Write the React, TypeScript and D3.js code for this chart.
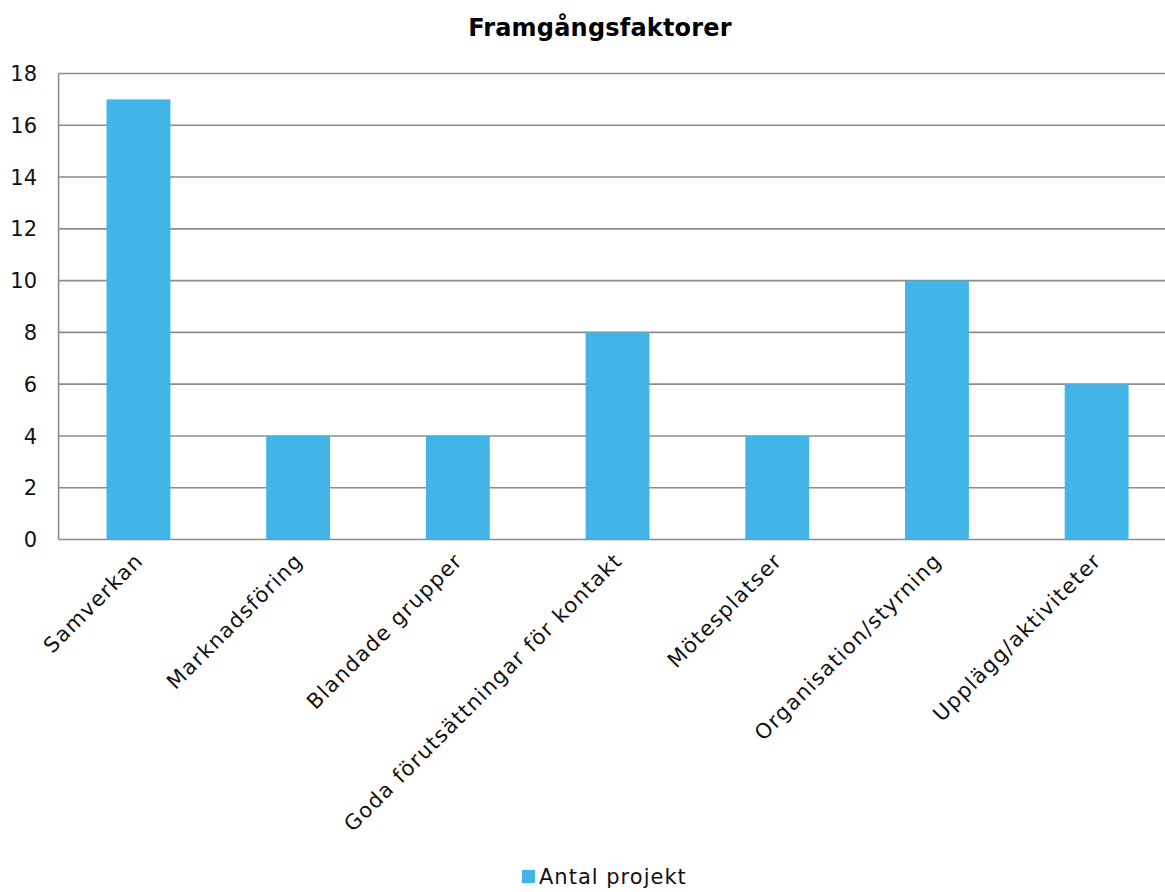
import React from "react";
import * as d3 from "d3";

const categories = [
  "Samverkan",
  "Marknadsföring",
  "Blandade grupper",
  "Goda förutsättningar för kontakt",
  "Mötesplatser",
  "Organisation/styrning",
  "Upplägg/aktiviteter",
];
const values = [17, 4, 4, 8, 4, 10, 6];
const yTicks = [0, 2, 4, 6, 8, 10, 12, 14, 16, 18];
const title = "Framgångsfaktorer";
const seriesName = "Antal projekt";

const W = 1165;
const H = 892;
const FONT = "'DejaVu Sans', sans-serif";
const BAR = "#41b6e6";
const GRID = "#8c8c8c";

export default function App() {
  const left = 58.6;
  const band = 159.7;
  const x = d3
    .scaleBand<string>()
    .domain(categories)
    .range([left, left + band * categories.length])
    .paddingInner(0.6)
    .paddingOuter(0.3);
  const y = d3.scaleLinear().domain([0, 18]).range([539.5, 73.5]);

  return (
    <svg
      width={W}
      height={H}
      style={{ position: "absolute", left: 0, top: 0, background: "#fff" }}
      fontFamily={FONT}
    >
      <text x={600} y={36} textAnchor="middle" fontWeight="bold" fontSize={24} letterSpacing={0.2} fill="#000">
        {title}
      </text>
      {yTicks.map((t) => (
        <g key={t}>
          <line x1={left} x2={W + 20} y1={y(t)} y2={y(t)} stroke={GRID} strokeWidth={1.6} />
          <text x={37} y={y(t)} dy="0.36em" textAnchor="end" fontSize={21} fill="#111">
            {t}
          </text>
        </g>
      ))}
      <line x1={left} x2={left} y1={y(18)} y2={y(0)} stroke={GRID} strokeWidth={1.6} />
      {categories.map((c, i) => (
        <rect
          key={c}
          x={x(c)}
          y={y(values[i])}
          width={x.bandwidth()}
          height={y(0) - y(values[i])}
          fill={BAR}
        />
      ))}
      {categories.map((c) => {
        const cx = (x(c) as number) + x.bandwidth() / 2 + 6;
        const cy = 562;
        return (
          <text
            key={c}
            transform={`translate(${cx},${cy}) rotate(-45)`}
            textAnchor="end"
            fontSize={21}
            fill="#111"
            letterSpacing={1.3}
          >
            {c}
          </text>
        );
      })}
      <rect x={522} y={870} width={13} height={13} fill={BAR} />
      <text x={539} y={884} fontSize={21} letterSpacing={1} fill="#111">
        {seriesName}
      </text>
    </svg>
  );
}
